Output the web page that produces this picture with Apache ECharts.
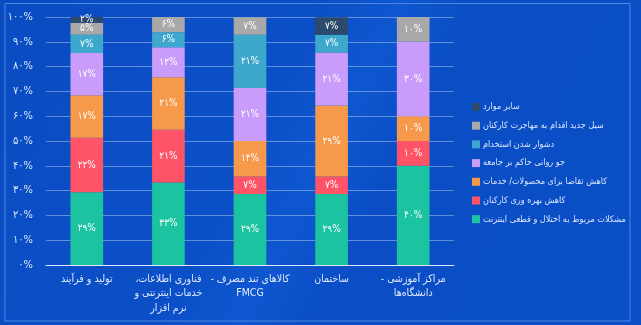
<!DOCTYPE html>
<html><head><meta charset="utf-8">
<script src="https://cdn.jsdelivr.net/npm/echarts@6/dist/echarts.min.js"></script>
<style>html,body{margin:0;padding:0;background:#0a4dc4}#c{width:641px;height:325px}</style>
</head><body><div id="c"></div>
<script>
var RLM = '\u200F';
var categories = ['تولید و فرآیند', 'فناوری اطلاعات،' + RLM + '\nخدمات اینترنتی و\nنرم افزار', 'کالاهای تند مصرف -' + RLM + '\nFMCG', 'ساختمان', 'مراکز آموزشی -' + RLM + '\nدانشگاه‌ها'];
var seriesNames = ['مشکلات مربوط به اختلال و قطعی اینترنت', 'کاهش بهره وری کارکنان', 'کاهش تقاضا برای محصولات/ خدمات', 'جو روانی حاکم بر جامعه', 'دشوار شدن استخدام', 'سیل جدید اقدام به مهاجرت کارکنان', 'سایر موارد'];
var internet = [29.3, 33.3, 28.6, 28.6, 40];
var productivity = [22.0, 21.2, 7.1, 7.1, 10];
var demand = [17.1, 21.2, 14.3, 28.6, 10];
var mood = [17.1, 12.1, 21.4, 21.4, 30];
var hiring = [7.3, 6.1, 21.4, 7.1, 0];
var migration = [4.9, 6.1, 7.1, 0, 10];
var other = [2.4, 0, 0, 7.1, 0];
var colors = ['#1cc3a0', '#ff5468', '#f7994a', '#c99bfb', '#3da8cc', '#a8a8a8', '#2b4a6c'];

var fa = '۰۱۲۳۴۵۶۷۸۹';
function toFa(n){ return String(n).replace(/[0-9]/g, function(d){ return fa[+d]; }); }
var font = 'DejaVu Sans Condensed';

var dataSets = [internet, productivity, demand, mood, hiring, migration, other];
var series = dataSets.map(function(d, i){
  return {
    name: seriesNames[i], type: 'bar', stack: 'all', barWidth: '40%',
    data: d.map(function(v){ return v === 0 ? null : v; }),
    itemStyle: {color: colors[i]},
    label: {show: true, position: 'inside', color: '#ffffff', fontSize: 10, fontFamily: font,
      formatter: function(p){ return toFa(Math.round(p.value)) + '%'; }}
  };
});

var chart = echarts.init(document.getElementById('c'), null, {renderer: 'canvas'});
chart.setOption({
  backgroundColor: 'transparent',
  graphic: [
    {type: 'rect', z: -10, silent: true, shape: {x: 0, y: 0, width: 641, height: 325},
     style: {fill: new echarts.graphic.LinearGradient(0, 0, 1, 1, [
       {offset: 0, color: '#0a4cc2'}, {offset: 0.4, color: '#0b4fc7'}, {offset: 0.5, color: '#0e57d0'}, {offset: 0.6, color: '#0a4dc4'}, {offset: 1, color: '#0a4fc6'}])}},
    {type: 'rect', z: -9, silent: true, shape: {x: 5, y: 3.5, width: 625, height: 317.5},
     style: {fill: 'none', stroke: '#4f86e0', lineWidth: 1}}
  ],
  grid: {left: 46, right: 187, top: 17, bottom: 60},
  legend: {
    orient: 'vertical', left: 467, top: 96, itemWidth: 8, itemHeight: 8, itemGap: 6.7,
    icon: 'rect', data: seriesNames.slice().reverse(),
    textStyle: {color: '#dbe7ff', fontSize: 9, lineHeight: 12, fontFamily: font, padding: [0, 0, 0, -2]}
  },
  xAxis: {
    type: 'category', data: categories,
    axisLine: {lineStyle: {color: '#dfe9ff', width: 1}},
    axisTick: {show: false},
    axisLabel: {color: '#e0eaff', fontSize: 10.5, fontFamily: font, lineHeight: 14.5, margin: 7, interval: 0}
  },
  yAxis: {
    type: 'value', min: 0, max: 100, interval: 10,
    axisLine: {show: false}, axisTick: {show: false},
    splitLine: {lineStyle: {color: 'rgba(170,195,235,0.55)', width: 1}},
    axisLabel: {color: '#dbe7ff', fontSize: 11, fontFamily: font, margin: 13,
      formatter: function(v){ return toFa(v) + '%'; }}
  },
  series: series
});
</script></body></html>
